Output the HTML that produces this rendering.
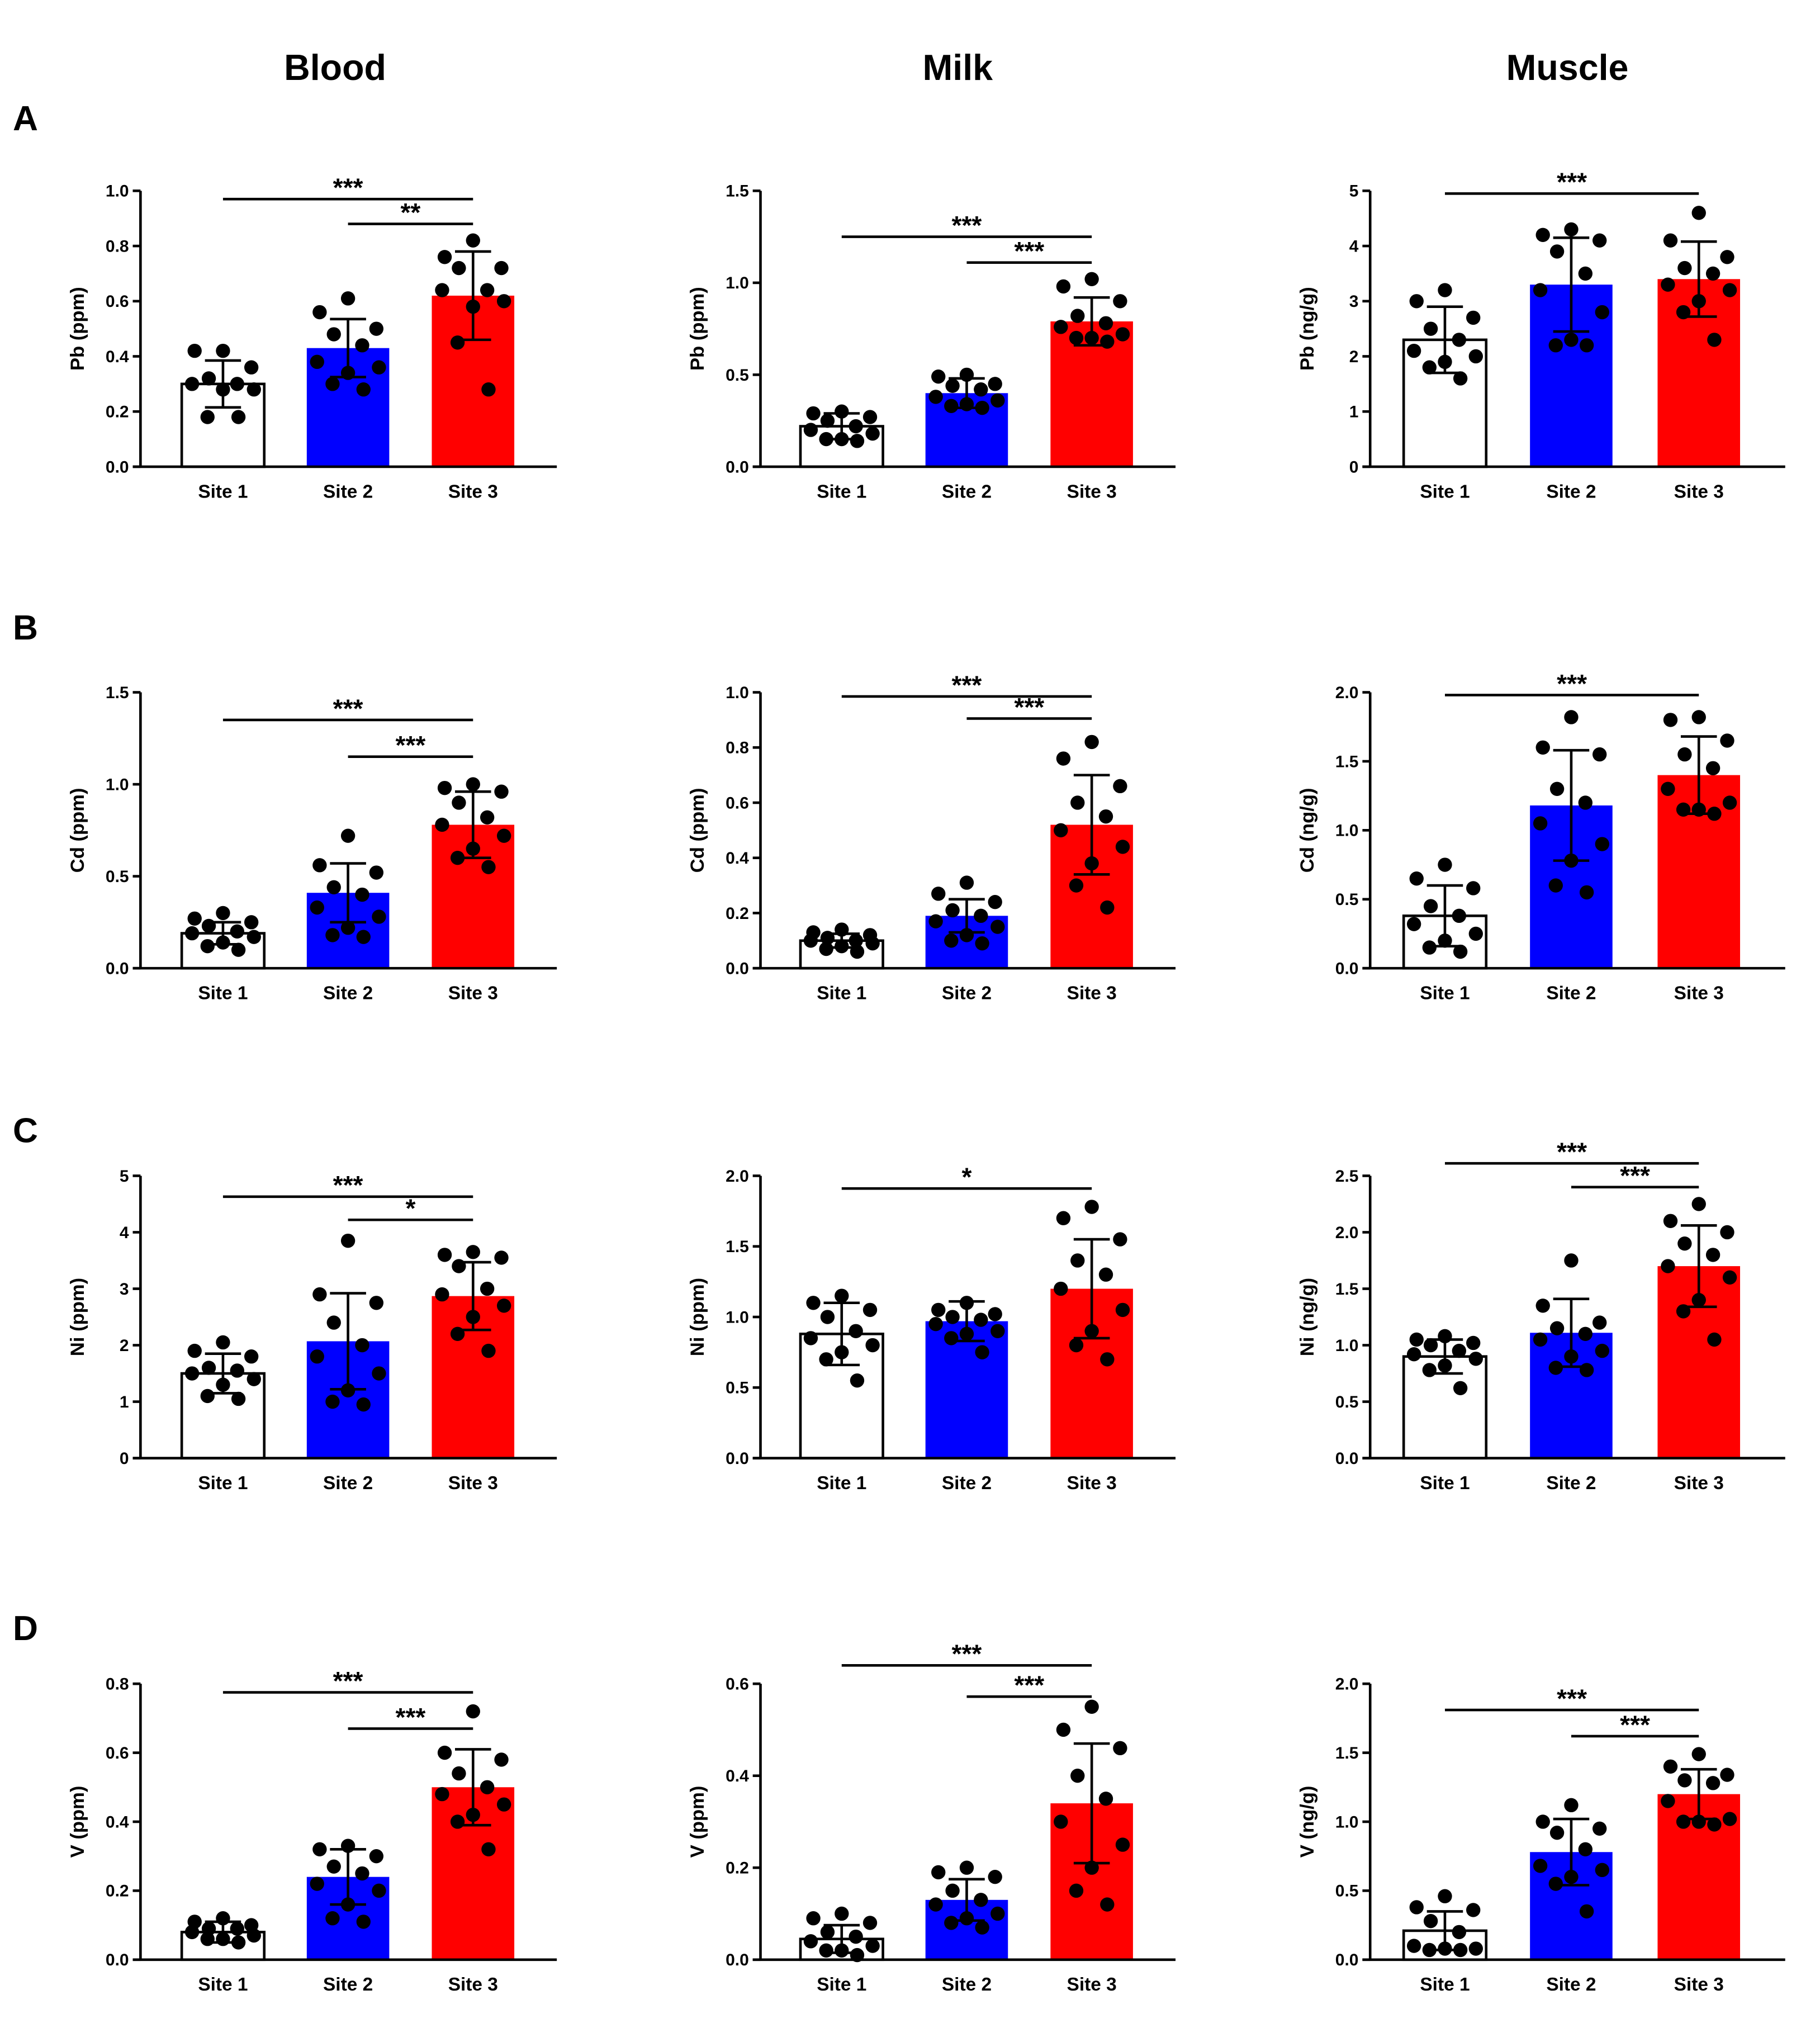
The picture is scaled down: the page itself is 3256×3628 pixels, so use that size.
<!DOCTYPE html>
<html><head><meta charset="utf-8">
<style>
html,body{margin:0;padding:0;background:#fff;}
svg{display:block;}
text{font-family:"Liberation Sans",Arial,sans-serif;font-weight:bold;fill:#000;}
</style></head>
<body>
<svg id="fig" xmlns="http://www.w3.org/2000/svg" width="3256" height="3628" viewBox="0 0 1412 1573" preserveAspectRatio="none"></svg>
<script>
const categories = ["Site 1","Site 2","Site 3"];
const rowLetters = ["A","B","C","D"];
const colTitles = ["Blood","Milk","Muscle"];
const yTitles = [["Pb (ppm)","Pb (ppm)","Pb (ng/g)"],["Cd (ppm)","Cd (ppm)","Cd (ng/g)"],["Ni (ppm)","Ni (ppm)","Ni (ng/g)"],["V (ppm)","V (ppm)","V (ng/g)"]];
const yMax = [[1.0,1.5,5],[1.5,1.0,2.0],[5,2.0,2.5],[0.8,0.6,2.0]];
const yStep = [[0.2,0.5,1],[0.5,0.2,0.5],[1,0.5,0.5],[0.2,0.2,0.5]];
const yDecimals = [[1,1,0],[1,1,1],[0,1,1],[1,1,1]];
const means = [
 [[0.30,0.43,0.62],[0.22,0.40,0.79],[2.3,3.3,3.4]],
 [[0.19,0.41,0.78],[0.10,0.19,0.52],[0.38,1.18,1.40]],
 [[1.50,2.07,2.87],[0.88,0.97,1.20],[0.90,1.11,1.70]],
 [[0.08,0.24,0.50],[0.045,0.13,0.34],[0.21,0.78,1.20]]
];
const sds = [
 [[0.085,0.105,0.16],[0.07,0.08,0.13],[0.6,0.85,0.68]],
 [[0.06,0.16,0.18],[0.025,0.06,0.18],[0.22,0.40,0.28]],
 [[0.35,0.85,0.6],[0.22,0.14,0.35],[0.15,0.30,0.36]],
 [[0.03,0.08,0.11],[0.03,0.045,0.13],[0.14,0.24,0.18]]
];
const points = [
 [[[0.42,0.42,0.36,0.32,0.30,0.30,0.28,0.28,0.18,0.18],[0.61,0.56,0.50,0.48,0.44,0.38,0.36,0.34,0.30,0.28],[0.82,0.76,0.72,0.72,0.64,0.64,0.60,0.58,0.45,0.28]],
  [[0.30,0.29,0.27,0.25,0.22,0.20,0.18,0.15,0.15,0.14],[0.50,0.49,0.45,0.44,0.42,0.38,0.36,0.34,0.33,0.32],[1.02,0.98,0.90,0.82,0.78,0.76,0.72,0.70,0.70,0.68]],
  [[3.2,3.0,2.7,2.5,2.3,2.1,2.0,1.9,1.8,1.6],[4.3,4.2,4.1,3.9,3.5,3.2,2.8,2.3,2.2,2.2],[4.6,4.1,3.8,3.6,3.5,3.3,3.2,3.0,2.8,2.3]]],
 [[[0.30,0.27,0.25,0.23,0.20,0.19,0.17,0.14,0.12,0.10],[0.72,0.56,0.52,0.44,0.40,0.33,0.28,0.22,0.18,0.17],[1.0,0.98,0.96,0.90,0.82,0.78,0.72,0.65,0.60,0.55]],
  [[0.14,0.13,0.12,0.11,0.10,0.10,0.09,0.08,0.07,0.06],[0.31,0.27,0.24,0.21,0.19,0.17,0.15,0.12,0.10,0.09],[0.82,0.76,0.66,0.60,0.55,0.50,0.44,0.38,0.30,0.22]],
  [[0.75,0.65,0.58,0.45,0.38,0.32,0.25,0.20,0.15,0.12],[1.82,1.60,1.55,1.30,1.20,1.05,0.90,0.78,0.60,0.55],[1.82,1.80,1.65,1.55,1.45,1.30,1.20,1.15,1.15,1.12]]],
 [[[2.05,1.9,1.8,1.6,1.55,1.5,1.4,1.3,1.1,1.05],[3.85,2.9,2.75,2.4,2.0,1.8,1.5,1.2,1.0,0.95],[3.65,3.6,3.55,3.4,3.0,2.9,2.7,2.5,2.2,1.9]],
  [[1.15,1.1,1.05,1.0,0.9,0.85,0.8,0.75,0.7,0.55],[1.1,1.05,1.02,1.0,0.98,0.95,0.9,0.88,0.85,0.75],[1.78,1.7,1.55,1.4,1.3,1.2,1.05,0.9,0.8,0.7]],
  [[1.08,1.05,1.02,1.0,0.95,0.92,0.88,0.82,0.78,0.62],[1.75,1.35,1.2,1.15,1.1,1.05,0.95,0.9,0.8,0.78],[2.25,2.1,2.0,1.9,1.8,1.7,1.6,1.4,1.3,1.05]]],
 [[[0.12,0.11,0.10,0.09,0.09,0.08,0.07,0.06,0.06,0.05],[0.33,0.32,0.30,0.27,0.25,0.22,0.20,0.16,0.12,0.11],[0.72,0.60,0.58,0.54,0.50,0.48,0.45,0.42,0.40,0.32]],
  [[0.10,0.09,0.08,0.06,0.05,0.04,0.03,0.02,0.02,0.01],[0.20,0.19,0.18,0.15,0.13,0.12,0.10,0.09,0.08,0.07],[0.55,0.50,0.46,0.40,0.35,0.30,0.25,0.20,0.15,0.12]],
  [[0.46,0.38,0.36,0.28,0.20,0.10,0.08,0.08,0.07,0.07],[1.12,1.0,0.95,0.92,0.80,0.68,0.65,0.60,0.55,0.35],[1.49,1.40,1.34,1.30,1.28,1.15,1.02,1.0,1.0,0.98]]]
];
// significance: [fromIndex, toIndex, yValue, label]
const sigs = [
 [[[0,2,0.97,"***"],[1,2,0.88,"**"]],[[0,2,1.25,"***"],[1,2,1.11,"***"]],[[0,2,4.95,"***"]]],
 [[[0,2,1.35,"***"],[1,2,1.15,"***"]],[[0,2,0.985,"***"],[1,2,0.905,"***"]],[[0,2,1.98,"***"]]],
 [[[0,2,4.63,"***"],[1,2,4.22,"*"]],[[0,2,1.91,"*"]],[[0,2,2.61,"***"],[1,2,2.4,"***"]]],
 [[[0,2,0.775,"***"],[1,2,0.67,"***"]],[[0,2,0.64,"***"],[1,2,0.572,"***"]],[[0,2,1.81,"***"],[1,2,1.62,"***"]]]
];

const NS="http://www.w3.org/2000/svg";
const svg=document.getElementById('fig');
function mk(tag,attrs,parent){const e=document.createElementNS(NS,tag);for(const k in attrs)e.setAttribute(k,attrs[k]);(parent||svg).appendChild(e);return e;}
const colAxisX=[109,590,1063], colEndX=[432,912,1385];
const barOff=[[64,161,258],[63,160,257],[58,156,255]];
const rowTB=[[148,362],[537,751],[912,1131],[1306,1520]];
const fills=["#ffffff","#0000ff","#ff0000"];
const jit=[0,-22,22,-11,11,-24,24,0,-12,12];

colTitles.forEach((t,c)=>{
  const e=mk('text',{x:[260,743,1216][c],y:62,'font-size':28,'text-anchor':'middle'});
  e.textContent=t;
  
  
});
rowLetters.forEach((L,r)=>{
  const e=mk('text',{x:10,y:[101,496,886,1272][r],'font-size':27});
  e.textContent=L;
  
  
});

for(let r=0;r<4;r++)for(let c=0;c<3;c++){
  const g=mk('g',{});
  
  
  const ax=colAxisX[c], ex=colEndX[c], top=rowTB[r][0], bot=rowTB[r][1];
  const ymax=yMax[r][c];
  const Y=v=>bot-(v/ymax)*(bot-top);
  const X=i=>ax+barOff[c][i];
  for(let i=0;i<3;i++){
    const m=means[r][c][i];
    const b=mk('rect',{x:X(i)-32,y:Y(m),width:64,height:bot-Y(m),fill:fills[i],stroke:i==0?'#000':'none','stroke-width':2},g);
    
    
  }
  const yax=mk('line',{x1:ax,y1:top,x2:ax,y2:bot,stroke:'#000','stroke-width':2},g);
  
  
  const xax=mk('line',{x1:ax-6,y1:bot,x2:ex,y2:bot,stroke:'#000','stroke-width':2},g);
  
  
  const n=Math.round(ymax/yStep[r][c]);
  for(let k=0;k<=n;k++){
    const v=k*yStep[r][c];
    mk('line',{x1:ax-6,y1:Y(v),x2:ax,y2:Y(v),stroke:'#000','stroke-width':2},g);
    const t=mk('text',{x:ax-9,y:Y(v)+4.5,'font-size':13,'text-anchor':'end'},g);
    t.textContent=v.toFixed(yDecimals[r][c]);
    
    
  }
  for(let i=0;i<3;i++){
    const t=mk('text',{x:X(i),y:bot+24,'font-size':14.5,'text-anchor':'middle'},g);
    t.textContent=categories[i];
    
    
  }
  const yt=mk('text',{x:0,y:0,'font-size':15,'text-anchor':'middle',transform:`translate(${ax-44},${(top+bot)/2}) rotate(-90)`},g);
  yt.textContent=yTitles[r][c];
  
  
  for(let i=0;i<3;i++){
    points[r][c][i].forEach((v,j)=>{
      const d=mk('circle',{cx:X(i)+jit[j],cy:Y(v),r:5.5,fill:'#000'},g);
      
      
    });
    const m=means[r][c][i], s=sds[r][c][i];
    const eg=mk('g',{stroke:'#000','stroke-width':2},g);
    
    
    mk('line',{x1:X(i),y1:Y(Math.max(0,m-s)),x2:X(i),y2:Y(m+s)},eg);
    mk('line',{x1:X(i)-14,y1:Y(m+s),x2:X(i)+14,y2:Y(m+s)},eg);
    mk('line',{x1:X(i)-14,y1:Y(Math.max(0,m-s)),x2:X(i)+14,y2:Y(Math.max(0,m-s))},eg);
  }
  sigs[r][c].forEach(sg=>{
    const y=Y(sg[2]);
    const l=mk('line',{x1:X(sg[0]),y1:y,x2:X(sg[1]),y2:y,stroke:'#000','stroke-width':2},g);
    
    
    const t=mk('text',{x:(X(sg[0])+X(sg[1]))/2,y:y-2,'font-size':20,'text-anchor':'middle'},g);
    t.textContent=sg[3];
    
    
  });
}
</script>
</body></html>
